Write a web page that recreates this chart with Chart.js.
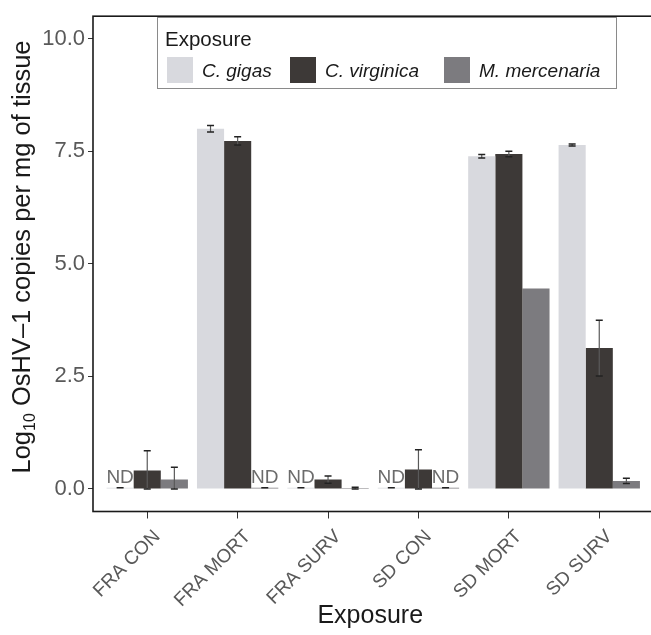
<!DOCTYPE html>
<html><head><meta charset="utf-8">
<script src="https://cdn.jsdelivr.net/npm/chart.js@4.4.0/dist/chart.umd.min.js"></script>
<style>html,body{margin:0;padding:0;overflow:hidden;background:#fff}</style>
</head><body>
<div style="width:660px;height:635px"><canvas id="c" width="660" height="635"></canvas></div>
<script>
// ---- data ----
const categories = ['FRA CON','FRA MORT','FRA SURV','SD CON','SD MORT','SD SURV'];
const seriesNames = ['C. gigas','C. virginica','M. mercenaria'];
const gigasValues = [0.03, 8.00, 0.03, 0.03, 7.39, 7.64];
const gigasErrors = [0, 0.07, 0, 0, 0.04, 0.02];
const virginicaValues = [0.41, 7.73, 0.21, 0.43, 7.44, 3.13];
const virginicaErrors = [0.44, 0.09, 0.08, 0.44, 0.06, 0.62];
const mercenariaValues = [0.21, 0.03, 0.02, 0.03, 4.45, 0.18];
const mercenariaErrors = [0.27, 0, 0.02, 0, null, 0.06];
const gigasND = [true, false, true, true, false, false];
const virginicaND = [false, false, false, false, false, false];
const mercenariaND = [false, true, false, true, false, false];
const yTicks = [0, 2.5, 5, 7.5, 10];

const colors = ['#d8d9de', '#3d3937', '#7c7b7f'];
const allValues = [gigasValues, virginicaValues, mercenariaValues];
const allErrors = [gigasErrors, virginicaErrors, mercenariaErrors];
const allND = [gigasND, virginicaND, mercenariaND];

const FONT = '"Liberation Sans", Arial, Helvetica, sans-serif';
Chart.defaults.font.family = FONT;

const datasets = seriesNames.map((name, s) => ({
  label: name,
  data: categories.map((c, i) => ({x: i + 1, y: allValues[s][i]})),
  backgroundColor: colors[s],
  borderWidth: 0,
  barPercentage: 1.0,
  categoryPercentage: 0.9
}));

const framePlugin = {
  id: 'frame',
  afterDraw(chart) {
    const {ctx, chartArea: a} = chart;
    ctx.save();
    ctx.strokeStyle = '#1a1a1a';
    ctx.lineWidth = 1.6;
    ctx.strokeRect(a.left, a.top, a.right - a.left, a.bottom - a.top);
    ctx.restore();
  }
};

const errorPlugin = {
  id: 'errs',
  afterDatasetsDraw(chart) {
    const {ctx} = chart;
    const y = chart.scales.y;
    ctx.save();
    chart.data.datasets.forEach((ds, s) => {
      const meta = chart.getDatasetMeta(s);
      meta.data.forEach((bar, i) => {
        const e = allErrors[s][i];
        const v = allValues[s][i];
        if (e !== null && e !== undefined) {
          const yt = y.getPixelForValue(v + e);
          const yb = y.getPixelForValue(Math.max(v - e, 0));
          const cx = bar.x;
          if (e > 0) {
            ctx.strokeStyle = '#5a5a5a';
            ctx.lineWidth = 1.2;
            ctx.beginPath(); ctx.moveTo(cx, yt); ctx.lineTo(cx, yb); ctx.stroke();
          }
          ctx.strokeStyle = '#222';
          ctx.lineWidth = 1.5;
          ctx.beginPath();
          ctx.moveTo(cx - 3.5, yt); ctx.lineTo(cx + 3.5, yt);
          ctx.moveTo(cx - 3.5, yb); ctx.lineTo(cx + 3.5, yb);
          ctx.stroke();
        }
        if (allND[s][i]) {
          ctx.fillStyle = '#6b6b6b';
          ctx.font = '19px ' + FONT;
          ctx.textAlign = 'center';
          ctx.textBaseline = 'alphabetic';
          ctx.fillText('ND', bar.x, y.getPixelForValue(0) - 6);
        }
      });
    });
    ctx.restore();
  }
};

const annotPlugin = {
  id: 'annot',
  afterDraw(chart) {
    const {ctx, chartArea: a} = chart;
    ctx.save();
    // legend
    const bx = 157, by = 17, bw = 459, bh = 71;
    ctx.fillStyle = '#fff';
    ctx.fillRect(bx, by, bw, bh);
    ctx.strokeStyle = '#8a8a8a';
    ctx.lineWidth = 1;
    ctx.strokeRect(bx + 0.5, by + 0.5, bw, bh);
    ctx.fillStyle = '#1a1a1a';
    ctx.font = '20.5px ' + FONT;
    ctx.textAlign = 'left';
    ctx.textBaseline = 'alphabetic';
    ctx.fillText('Exposure', bx + 8, by + 29);
    const itemX = [10, 133, 287];
    chart.data.datasets.forEach((ds, s) => {
      const x = bx + itemX[s];
      ctx.fillStyle = ds.backgroundColor;
      ctx.fillRect(x, by + 40, 26, 26);
      ctx.fillStyle = '#1a1a1a';
      ctx.font = 'italic 19px ' + FONT;
      ctx.fillText(ds.label, x + 35, by + 60);
    });
    // y axis title with subscript
    ctx.translate(30, 257);
    ctx.rotate(-Math.PI / 2);
    ctx.fillStyle = '#1a1a1a';
    const main1 = 'Log', sub = '10', main2 = ' OsHV\u20131 copies per mg of tissue';
    ctx.font = '25.5px ' + FONT;
    const w1 = ctx.measureText(main1).width, w3 = ctx.measureText(main2).width;
    ctx.font = '16px ' + FONT;
    const w2 = ctx.measureText(sub).width;
    let x0 = -(w1 + w2 + w3) / 2;
    ctx.font = '25.5px ' + FONT;
    ctx.fillText(main1, x0, 0);
    ctx.font = '16px ' + FONT;
    ctx.fillText(sub, x0 + w1, 5);
    ctx.font = '25.5px ' + FONT;
    ctx.fillText(main2, x0 + w1 + w2, 0);
    ctx.restore();
    // x axis title
    ctx.save();
    ctx.fillStyle = '#1a1a1a';
    ctx.font = '25px ' + FONT;
    ctx.textAlign = 'center';
    ctx.fillText('Exposure', (a.left + a.right) / 2 - 3, 623);
    ctx.restore();
  }
};

new Chart(document.getElementById('c'), {
  type: 'bar',
  data: {datasets},
  options: {
    responsive: false,
    animation: false,
    devicePixelRatio: 1,
    layout: {padding: {top: 12, right: 6.5, left: 0, bottom: 0}},
    plugins: {legend: {display: false}, tooltip: {enabled: false}},
    scales: {
      x: {
        type: 'linear',
        min: 0.4, max: 6.6,
        offset: false,
        afterBuildTicks(ax) { ax.ticks = categories.map((c, i) => ({value: i + 1})); },
        afterFit(ax) { ax.height = 123.5; },
        ticks: {
          autoSkip: false, maxRotation: 45, minRotation: 45,
          color: '#595959', font: {size: 19}, padding: 7, labelOffset: 10,
          callback: (v) => categories[Math.round(v) - 1]
        },
        grid: {offset: false, drawOnChartArea: false, drawTicks: true, tickLength: 7, color: '#333', lineWidth: 1},
        border: {display: false}
      },
      y: {
        min: -0.5, max: 10.5,
        afterBuildTicks(ax) { ax.ticks = yTicks.map(v => ({value: v})); },
        afterFit(ax) { ax.width = 93; },
        ticks: {color: '#595959', font: {size: 22}, padding: 3, callback: (v) => v.toFixed(1)},
        grid: {drawOnChartArea: false, drawTicks: true, tickLength: 5, color: '#333', lineWidth: 1},
        border: {display: false}
      }
    }
  },
  plugins: [framePlugin, errorPlugin, annotPlugin]
});
</script>
</body></html>
